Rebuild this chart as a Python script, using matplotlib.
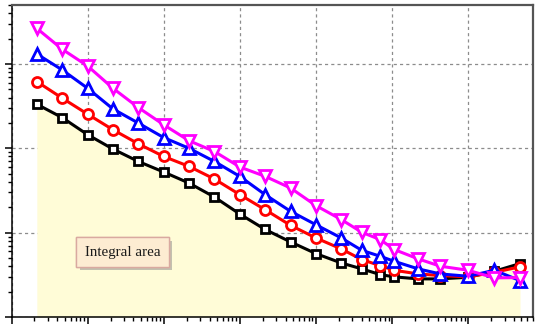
import matplotlib
matplotlib.use("Agg")
import matplotlib.pyplot as plt
import matplotlib.patheffects as pe
from matplotlib.ticker import LogLocator, NullFormatter

# x positions of the samples (log spaced)
x = [2.15, 4.64, 10, 21.5, 46.4, 100, 215, 464, 1000, 2150, 4640, 10000,
     21500, 40000, 70000, 107000, 220000, 430000, 1000000, 2200000, 4800000]

black = [333, 231, 145, 98, 69.8, 52.3, 38.7, 26.4, 16.6, 10.9, 7.76, 5.64,
         4.37, 3.72, 3.18, 2.99, 2.83, 2.83, 2.96, 3.48, 4.30]
red = [618, 393, 254, 166, 113, 80, 61, 43.2, 28.2, 18.7, 12.2, 8.65,
       6.41, 4.79, 4.06, 3.58, 3.24, 3.10, 2.99, 3.39, 3.93]
blue = [1313, 849, 515, 293, 199, 134, 100, 69.8, 46.4, 28.2, 17.9, 12.4,
        8.65, 6.17, 5.24, 4.57, 3.72, 3.24, 3.04, 3.58, 2.70]
magenta = [2642, 1493, 946, 515, 304, 190, 123, 91.6, 60, 46.5, 33.8, 20.9,
           14.3, 10.1, 8.26, 6.30, 4.89, 4.0, 3.58, 2.91, 2.93]

fig = plt.figure(figsize=(5.38, 3.29), dpi=100)
ax = fig.add_axes([0.0214, 0.0365, 0.9684, 0.9483])

ax.set_xscale("log")
ax.set_yscale("log")
ax.set_xlim(1, 7e6)
ax.set_ylim(1, 5000)

# integral area under the lowest curve
ax.fill_between(x, black, 1, color="#fffcd7", zorder=1, linewidth=0)

style = dict(linewidth=2.2, markerfacecolor="white", markeredgewidth=2.0, zorder=3)
ax.plot(x, black, color="black", marker="s", markersize=6.3, **style)
ax.plot(x, red, color="red", marker="o", markersize=7.2, **style)
ax.plot(x, blue, color="blue", marker="^", markersize=9, **style)
ax.plot(x, magenta, color="magenta", marker="v", markersize=9, **style)

ax.set_axisbelow(True)
ax.grid(True, which="major", color="#8c8c8c", linestyle=(0, (2.5, 2.5)), linewidth=0.9)

ax.xaxis.set_major_locator(LogLocator(base=10, numticks=20))
ax.xaxis.set_minor_locator(LogLocator(base=10, subs=range(2, 10), numticks=20))
ax.yaxis.set_major_locator(LogLocator(base=10, numticks=20))
ax.yaxis.set_minor_locator(LogLocator(base=10, subs=range(2, 10), numticks=20))
ax.xaxis.set_major_formatter(NullFormatter())
ax.xaxis.set_minor_formatter(NullFormatter())
ax.yaxis.set_major_formatter(NullFormatter())
ax.yaxis.set_minor_formatter(NullFormatter())
ax.tick_params(which="major", direction="out", length=5, width=1.1)
ax.tick_params(which="minor", direction="out", length=3, width=1.0)

for side in ["left", "bottom"]:
    ax.spines[side].set_color("black")
    ax.spines[side].set_linewidth(1.1)
for side in ["top", "right"]:
    ax.spines[side].set_color("#555555")
    ax.spines[side].set_linewidth(1.6)

t = ax.text(0.213, 0.208, "Integral area", transform=ax.transAxes,
            ha="center", va="center", fontsize=10.8, family="Liberation Serif",
            color="#1a1a1a", zorder=5,
            bbox=dict(boxstyle="square,pad=0.55", facecolor="#fdecd2",
                      edgecolor="#d9a9a0", linewidth=1.0))
t.get_bbox_patch().set_path_effects([
    pe.withSimplePatchShadow(offset=(2.5, -2.5), shadow_rgbFace="#888888", alpha=0.5),
    pe.Normal()])

fig.savefig("out.png", dpi=100)
